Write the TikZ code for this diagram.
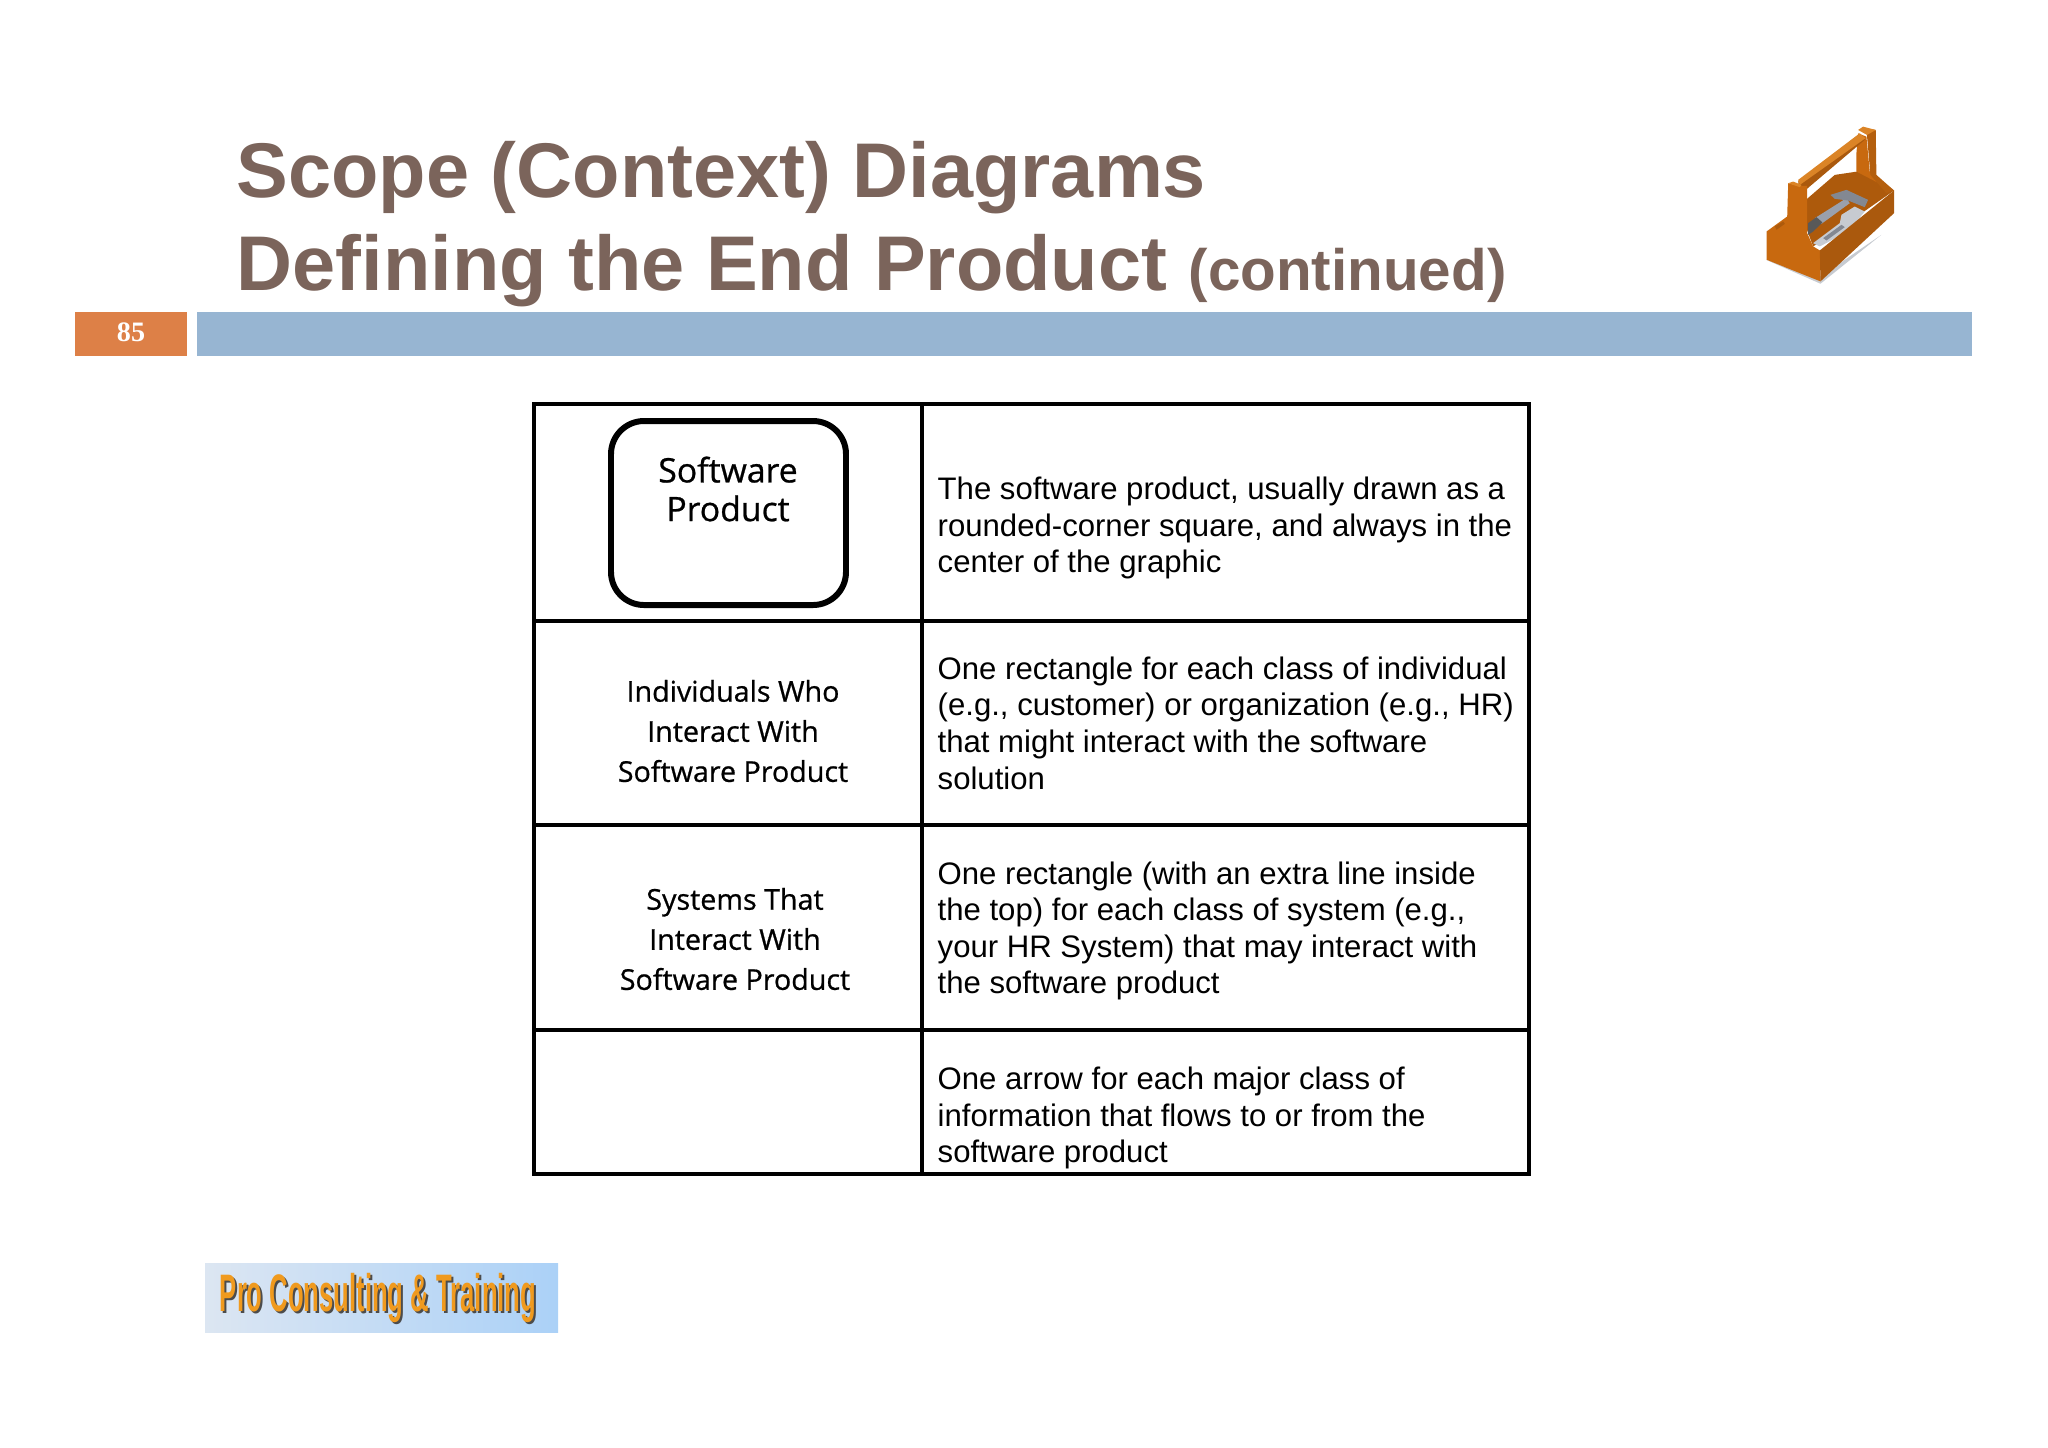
\documentclass[tikz,border=0pt]{standalone}
\usepackage{fontspec}
\usepackage{xcolor}
\setmainfont{Liberation Sans}
\newfontfamily\cellfont[FakeBold=0.7]{Open Sans}
\newfontfamily\numfont{Liberation Serif}
\definecolor{titlebrown}{HTML}{7B645B}
\definecolor{barblue}{HTML}{97B5D2}
\definecolor{barorange}{HTML}{DD8047}
\definecolor{boxwood}{HTML}{C8690F}
\definecolor{boxdark}{HTML}{AD5A0C}
\definecolor{boxlight}{HTML}{DB8426}
\definecolor{toolgrey}{HTML}{9AA0AC}
\definecolor{logoink}{HTML}{F09A1E}
\definecolor{logoleft}{HTML}{DCE6F2}
\definecolor{logoright}{HTML}{ABD1F7}
\tikzset{
    titletext/.style={anchor=base west, inner sep=0pt, text=titlebrown, font=\fontsize{22.05}{24}\selectfont\bfseries},
    gridline/.style={line width=1.4pt, black},
    celltext/.style={anchor=center, align=center, inner sep=0pt, font=\cellfont\fontsize{8.15}{11.4}\selectfont},
    desctext/.style={anchor=west, align=left, inner sep=0pt, font=\fontsize{8.85}{10.4}\selectfont},
    logotype/.style={xscale=0.486, anchor=center, font=\fontsize{15}{17}\selectfont\bfseries},
}
\begin{document}
\begin{tikzpicture}[x=0.01cm, y=-0.01cm]
    \useasboundingbox (0,0) rectangle (2048,1447);

    % heading
    \node[titletext] (titleone) at (236,197) {Scope (Context) Diagrams};
    \node[titletext] (titletwo) at (236,290) {Defining the End Product \fontsize{16.6}{20}\selectfont(continued)};
    \fill[barorange] (75,312) rectangle (187,356);
    \fill[barblue] (197,312) rectangle (1972,356);
    \node[text=white, font=\numfont\fontsize{8}{10}\selectfont\bfseries] (pagenum) at (131,332) {85};

    % toolbox
    \begin{scope}[shift={(1700,100)}, x=0.00333cm, y=-0.00333cm]
        \fill[toolgrey!55] (198,480) -- (362,552) -- (545,405) -- (362,530) -- cycle;
        % back wall and far post
        \fill[boxdark] (295,320) -- (405,225) -- (472,215) -- (510,215) -- (583,272) -- (500,330) -- (340,440) -- cycle;
        \fill[boxwood] (475,100) -- (500,110) -- (510,215) -- (560,262) -- (470,215) -- (470,160) -- cycle;
        \fill[boxwood!90!black] (500,85) -- (528,90) -- (530,225) -- (583,272) -- (560,280) -- (512,225) -- (502,110) -- cycle;
        \fill[boxlight] (475,90) -- (490,80) -- (528,90) -- (502,105) -- cycle;
        % handle
        \fill[boxwood!85!black] (295,245) -- (475,105) -- (497,118) -- (300,285) -- cycle;
        \fill[boxlight] (295,240) -- (480,100) -- (497,115) -- (300,255) -- cycle;
        % hammer
        \fill[toolgrey] (345,355) -- (440,295) -- (450,310) -- (365,372) -- cycle;
        \fill[black!65] (325,370) -- (350,352) -- (368,368) -- (340,395) -- (325,405) -- cycle;
        \fill[toolgrey!85!black] (392,285) -- (440,270) -- (505,300) -- (495,322) -- (445,302) -- (405,297) -- cycle;
        % wrench
        \fill[toolgrey!55] (340,430) -- (420,370) -- (425,345) -- (465,320) -- (495,335) -- (445,395) -- (360,440) -- cycle;
        \fill[toolgrey!85!black] (370,415) -- (425,375) -- (435,382) -- (380,422) -- cycle;
        % front panel and long side
        \fill[boxwood] (200,395) -- (262,350) -- (265,250) -- (300,258) -- (322,258) -- (322,400) -- (340,440) -- (360,452) -- (362,545) -- (200,480) -- cycle;
        \fill[boxdark] (225,380) -- (250,365) -- (255,372) -- (230,390) -- cycle;
        \fill[boxlight] (265,250) -- (280,245) -- (305,255) -- (300,262) -- cycle;
        \fill[boxwood!85!black] (360,452) -- (583,272) -- (583,340) -- (362,545) -- cycle;
    \end{scope}

    % table
    \draw[gridline] (534,404) rectangle (1529,1174);
    \draw[gridline] (922,404) -- (922,1174);
    \draw[gridline] (534,621) -- (1529,621);
    \draw[gridline] (534,825) -- (1529,825);
    \draw[gridline] (534,1030) -- (1529,1030);
    \draw[line width=1.7pt, rounded corners=0.33cm] (611,421) rectangle (846,605);

    \node[celltext, font=\cellfont\fontsize{9.6}{11}\selectfont] (swprod) at (728,489) {Software\\Product};
    \node[celltext] (indiv) at (733,731) {Individuals Who\\Interact With\\Software Product};
    \node[celltext] (systems) at (735,939) {Systems That\\Interact With\\Software Product};

    \node[desctext] (descone) at (937,528) {The software product, usually drawn as a\\rounded-corner square, and always in the\\center of the graphic};
    \node[desctext] (desctwo) at (937,723) {One rectangle for each class of individual\\(e.g., customer) or organization (e.g., HR)\\that might interact with the software\\solution};
    \node[desctext] (descthree) at (937,931) {One rectangle (with an extra line inside\\the top) for each class of system (e.g.,\\your HR System) that may interact with\\the software product};
    \node[desctext] (descfour) at (937,1118) {One arrow for each major class of\\information that flows to or from the\\software product};

    % logo
    \shade[left color=logoleft, right color=logoright] (205,1263) rectangle (558,1332);
    \node[logotype, text=black!70] (logoshadow) at (380,1300) {Pro Consulting \& Training};
    \node[logotype, text=logoink] (logotext) at (378,1298) {Pro Consulting \& Training};
\end{tikzpicture}
\end{document}
